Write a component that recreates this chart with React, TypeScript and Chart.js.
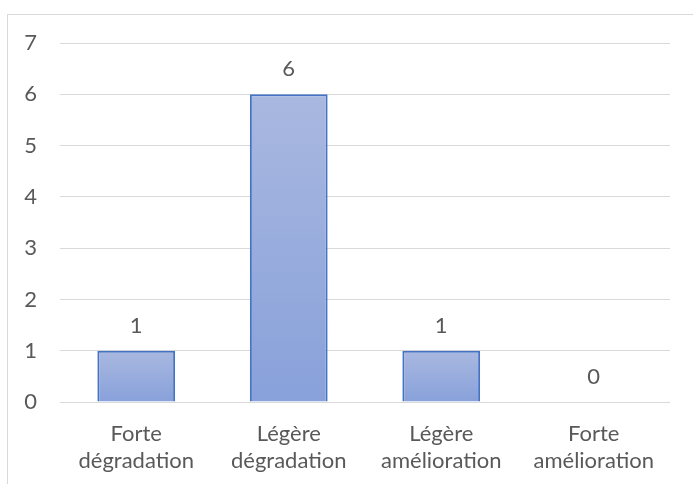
import React, { useEffect, useRef } from "react";
import { Chart, registerables } from "chart.js";

Chart.register(...registerables);

const categories: string[][] = [
  ["Forte", "dégradation"],
  ["Légère", "dégradation"],
  ["Légère", "amélioration"],
  ["Forte", "amélioration"],
];
const values: number[] = [1, 6, 1, 0];
const yTicks: number[] = [0, 1, 2, 3, 4, 5, 6, 7];

const FONT = "Lato, 'Open Sans', sans-serif";
const TEXT = "#595959";

const dataLabels = {
  id: "dataLabels",
  afterDatasetsDraw(chart: any) {
    const ctx = chart.ctx;
    const meta = chart.getDatasetMeta(0);
    ctx.save();
    ctx.font = `22px ${FONT}`;
    ctx.fillStyle = TEXT;
    ctx.textAlign = "center";
    ctx.textBaseline = "middle";
    meta.data.forEach((el: any, i: number) => {
      ctx.fillText(String(values[i]), el.x, el.y - 25);
    });
    ctx.restore();
  },
};

export default function App() {
  const ref = useRef<HTMLCanvasElement>(null);
  useEffect(() => {
    if (!ref.current) return;
    const chart = new Chart(ref.current, {
      type: "bar",
      data: {
        labels: categories,
        datasets: [
          {
            data: values,
            backgroundColor: (c: any) => {
              const ch = c.chart;
              const y = ch.scales?.y;
              if (!y || c.raw === undefined) return "#98ace0";
              const top = y.getPixelForValue(c.raw);
              const base = y.getPixelForValue(0);
              if (!isFinite(top) || Math.abs(base - top) < 1) return "#98ace0";
              const g = ch.ctx.createLinearGradient(0, top, 0, base);
              g.addColorStop(0, "#a9b8e0");
              g.addColorStop(1, "#88a1da");
              return g;
            },
            borderColor: "#4472c4",
            borderWidth: 2,
            barPercentage: 0.51,
            categoryPercentage: 1,
          },
        ],
      },
      options: {
        animation: false,
        responsive: false,
        layout: { padding: { top: 43, right: 23, bottom: 0, left: 0 } },
        plugins: { legend: { display: false }, tooltip: { enabled: false } },
        scales: {
          x: {
            grid: { display: false },
            border: { display: false },
            ticks: {
              color: TEXT,
              font: { family: FONT, size: 22, lineHeight: 1.23 },
              padding: 10,
              maxRotation: 0,
              autoSkip: false,
            },
            afterFit: (s: any) => {
              s.height = 82;
            },
          },
          y: {
            min: 0,
            max: 7,
            afterBuildTicks: (s: any) => {
              s.ticks = yTicks.map((v) => ({ value: v }));
            },
            grid: { color: "#d9d9d9", lineWidth: 1, drawTicks: false },
            border: { display: false },
            ticks: {
              color: TEXT,
              font: { family: FONT, size: 22 },
              padding: 23,
            },
            afterFit: (s: any) => {
              s.width = 60;
            },
          },
        },
      },
      plugins: [dataLabels],
    });
    return () => chart.destroy();
  }, []);
  return (
    <div style={{ position: "fixed", left: 0, top: 0, width: 693, height: 484, background: "#fff", overflow: "hidden" }}>
      <div
        style={{
          position: "absolute",
          left: 7,
          top: 14,
          width: 800,
          height: 600,
          borderLeft: "1.5px solid #d9d9d9",
          borderTop: "1.5px solid #d9d9d9",
        }}
      />
      <canvas ref={ref} width={693} height={484} style={{ position: "absolute", left: 0, top: 0 }} />
    </div>
  );
}
